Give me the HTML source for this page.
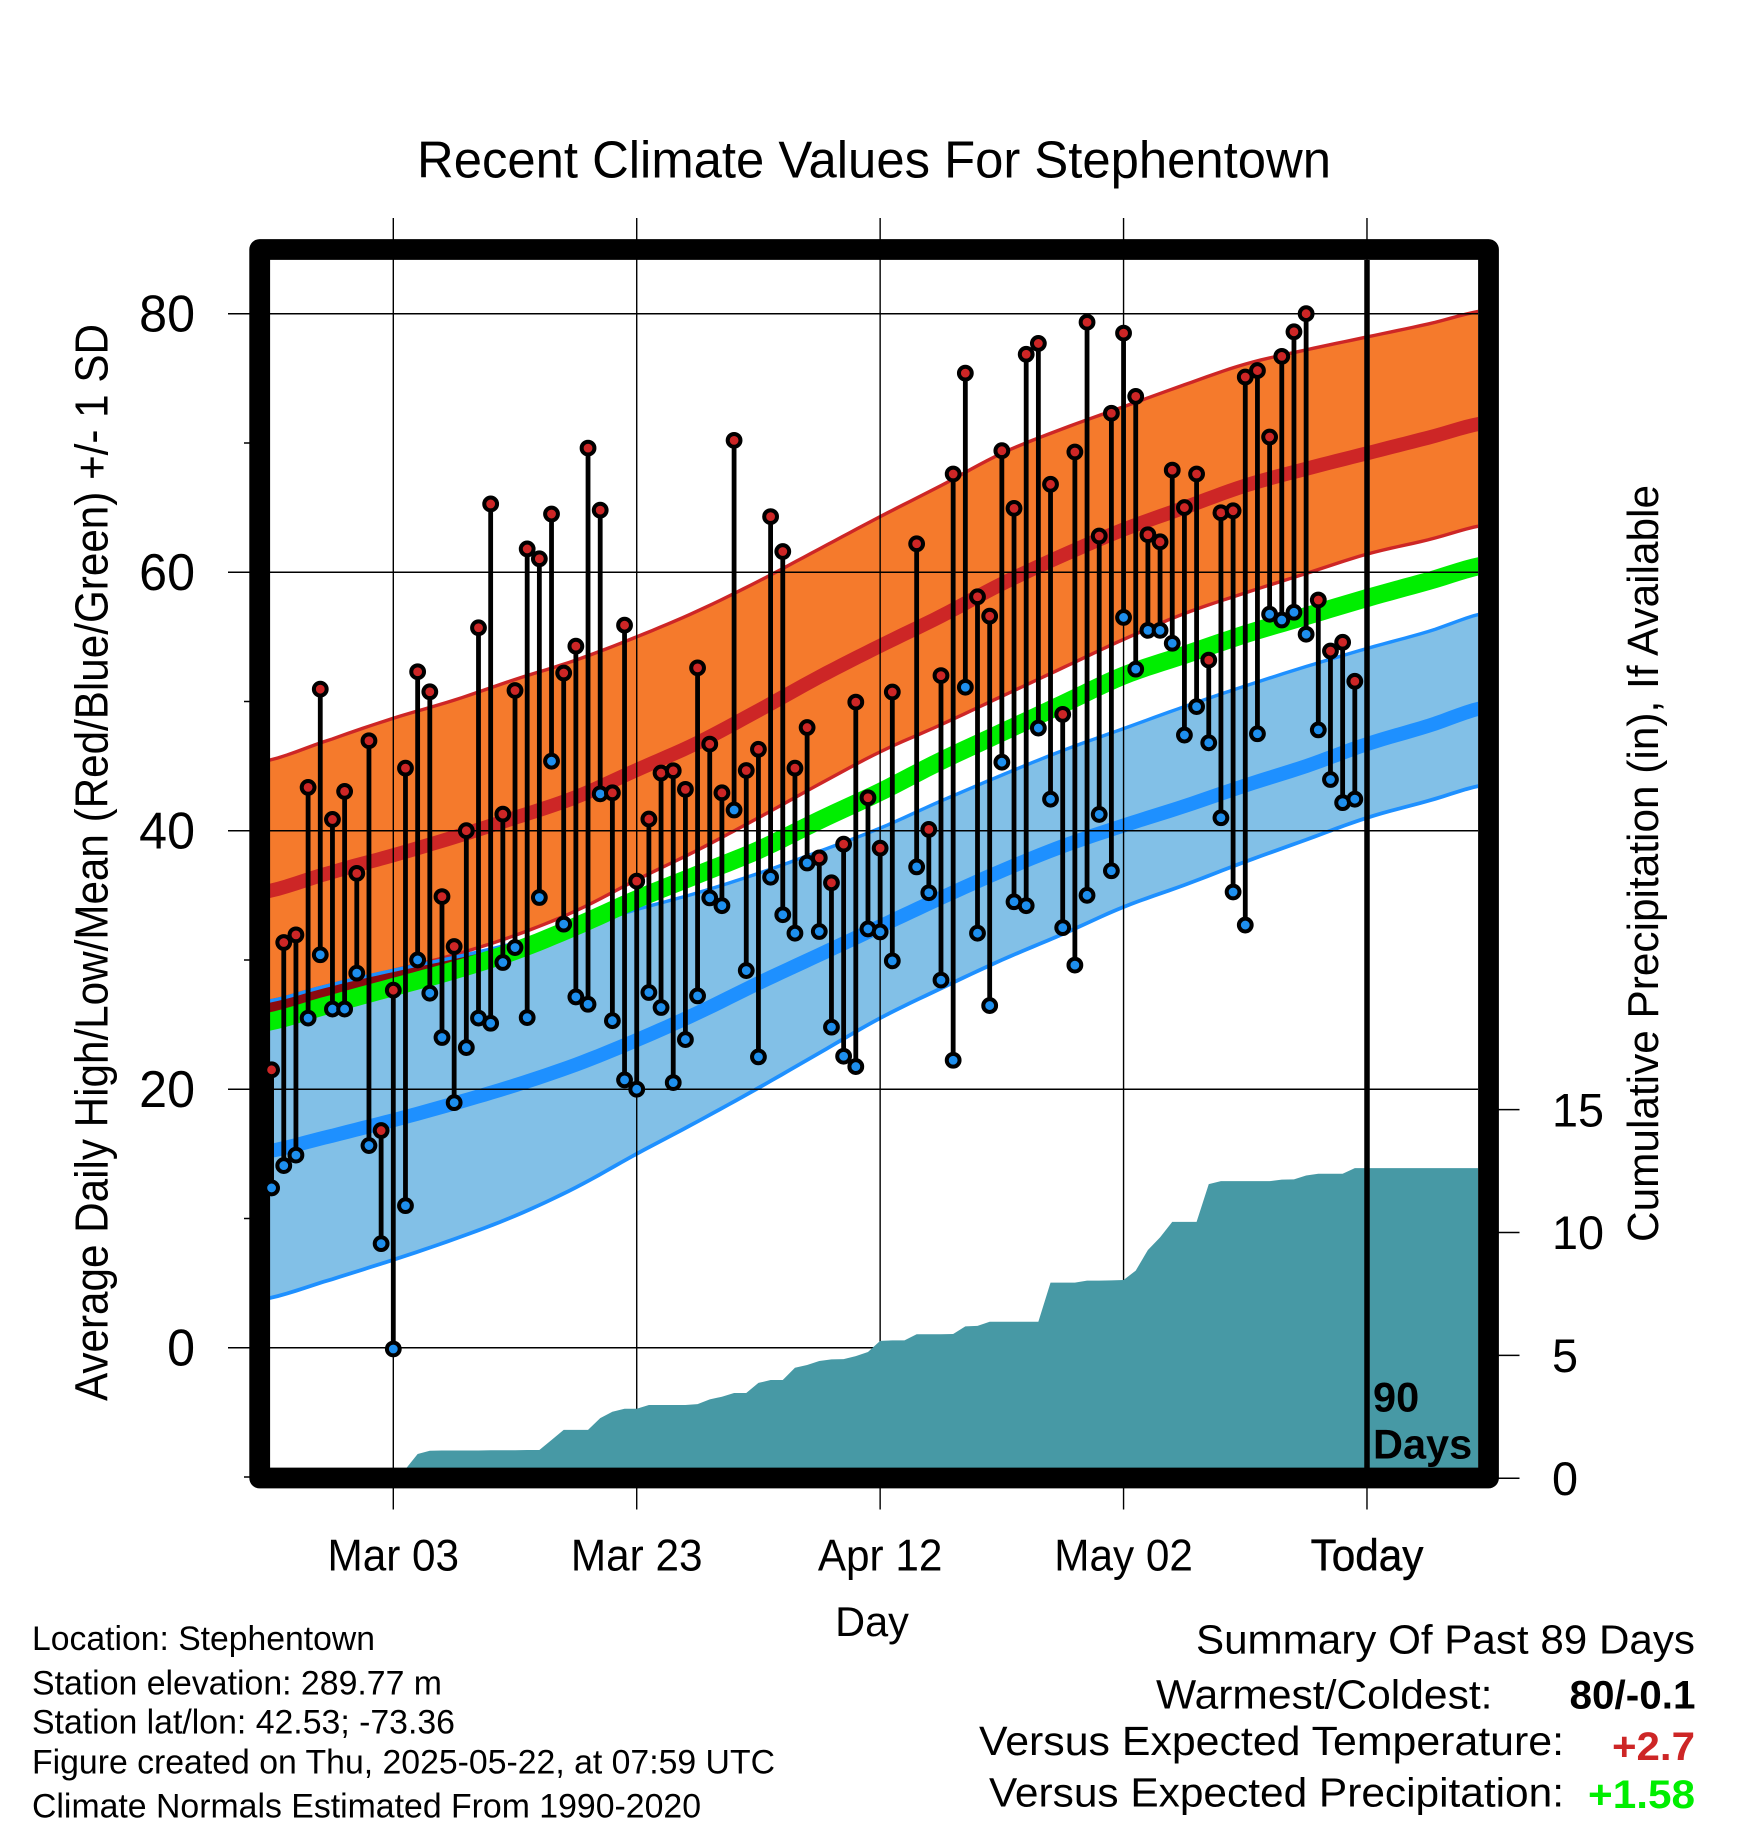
<!DOCTYPE html>
<html lang="en">
<head>
<meta charset="utf-8">
<title>Recent Climate Values For Stephentown</title>
<style>
html,body{margin:0;padding:0;background:#fff;}
svg{display:block;}
text{font-family:"Liberation Sans",sans-serif;fill:#000;}
</style>
</head>
<body>
<svg id="chart" xmlns="http://www.w3.org/2000/svg" width="1748" height="1828" viewBox="0 0 1748 1828">
  <defs>
    <clipPath id="plot-clip"><rect x="270" y="260" width="1208" height="1208"/></clipPath>
  </defs>
  <rect x="0" y="0" width="1748" height="1828" fill="#fff"/>
  <text x="417" y="177.3" font-size="52" textLength="914" lengthAdjust="spacingAndGlyphs">Recent Climate Values For Stephentown</text>
  <g id="bands" clip-path="url(#plot-clip)"></g>
  <g id="grid"></g>
  <g id="precip" clip-path="url(#plot-clip)"></g>
  <line x1="1367" x2="1367" y1="260" y2="1468" stroke="#000" stroke-width="5.5"/>
  <rect x="259.7" y="249.5" width="1228.8" height="1228.5" fill="none" stroke="#000" stroke-width="20.8" stroke-linejoin="round"/>
  <g id="marks"></g>
  <g id="axis-labels"></g>
  <text x="1373" y="1411.7" font-size="41.5" font-weight="bold">90</text>
  <text x="1373" y="1458.3" font-size="41.5" font-weight="bold">Days</text>
  <text transform="translate(107.5,1401) rotate(-90)" font-size="46" textLength="1077" lengthAdjust="spacingAndGlyphs">Average Daily High/Low/Mean (Red/Blue/Green) +/- 1 SD</text>
  <text transform="translate(1658,1242) rotate(-90)" font-size="43.5" textLength="757" lengthAdjust="spacingAndGlyphs">Cumulative Precipitation (in), If Available</text>
  <text x="872" y="1636" font-size="41.5" text-anchor="middle">Day</text>

  <text x="32" y="1650" font-size="34.5" textLength="343" lengthAdjust="spacingAndGlyphs">Location: Stephentown</text>
  <text x="32" y="1694.3" font-size="34.5" textLength="410" lengthAdjust="spacingAndGlyphs">Station elevation: 289.77 m</text>
  <text x="32" y="1733.3" font-size="34.5" textLength="423" lengthAdjust="spacingAndGlyphs">Station lat/lon: 42.53; -73.36</text>
  <text x="32" y="1773.3" font-size="34.5" textLength="743" lengthAdjust="spacingAndGlyphs">Figure created on Thu, 2025-05-22, at 07:59 UTC</text>
  <text x="32" y="1817.3" font-size="34.5" textLength="669" lengthAdjust="spacingAndGlyphs">Climate Normals Estimated From 1990-2020</text>

  <text x="1196" y="1653.3" font-size="41" textLength="499" lengthAdjust="spacingAndGlyphs">Summary Of Past 89 Days</text>
  <text x="1156" y="1708.3" font-size="41" textLength="336.5" lengthAdjust="spacingAndGlyphs">Warmest/Coldest:</text>
  <text x="1569.5" y="1708.3" font-size="40" font-weight="bold" textLength="126" lengthAdjust="spacingAndGlyphs">80/-0.1</text>
  <text x="979" y="1755" font-size="41" textLength="585" lengthAdjust="spacingAndGlyphs">Versus Expected Temperature:</text>
  <text x="1612" y="1760" font-size="40" font-weight="bold" style="fill:#cd2626" textLength="83" lengthAdjust="spacingAndGlyphs">+2.7</text>
  <text x="989" y="1806.7" font-size="41" textLength="575" lengthAdjust="spacingAndGlyphs">Versus Expected Precipitation:</text>
  <text x="1588" y="1808" font-size="40" font-weight="bold" style="fill:#00ee00" textLength="107" lengthAdjust="spacingAndGlyphs">+1.58</text>
</svg>
<script>
/* Chart values */
const firstDay = -10;
const dailyHigh = [21.5,31.35,31.94,43.35,50.95,40.87,43.04,36.7,46.96,16.8,
  27.66,44.84,52.3,50.75,34.9,31.04,40,55.7,65.28,41.28,
  50.85,61.8,61.04,64.5,52.2,54.28,69.6,64.8,42.93,55.9,
  36.1,40.9,44.46,44.64,43.2,52.6,46.7,42.93,70.2,44.66,
  46.3,64.3,61.6,44.84,47.98,37.9,35.97,38.96,49.95,42.55,
  38.65,50.73,null,62.2,40.1,52,67.6,75.4,58.1,56.6,
  69.4,64.94,76.86,77.7,66.8,49,69.3,79.34,62.8,72.3,
  78.5,73.6,62.9,62.35,67.9,65,67.6,53.2,64.6,64.75,
  75.1,75.6,70.46,76.7,78.6,80,57.85,53.9,54.58,51.56];
const dailyLow = [12.36,14.09,14.9,25.5,30.4,26.2,26.2,28.98,15.64,8.05,
  -0.1,10.99,30,27.43,24,18.96,23.22,25.5,25.1,29.8,
  30.96,25.54,34.83,45.38,32.77,27.14,26.57,42.85,25.3,20.72,
  20,27.48,26.32,20.51,23.84,27.22,34.8,34.2,41.6,29.18,
  22.5,36.4,33.5,32.07,37.5,32.2,24.8,22.55,21.75,32.4,
  32.17,29.93,null,37.2,35.2,28.44,22.24,51.1,32.07,26.47,
  45.3,34.5,34.2,47.94,42.44,32.5,29.6,35,41.26,36.9,
  56.5,52.5,55.5,55.5,54.5,47.4,49.6,46.8,41,35.26,
  32.7,47.5,56.75,56.3,56.9,55.2,47.8,43.96,42.17,42.44];

const normalDays = [-11,-5,0,5,10,15,20,25,30,35,40,45,50,55,60,65,70,75,80,85,90];
const highUpper = [45.3,47.1,48.7,50.1,51.7,53.2,55,57,59.3,61.8,64.3,66.7,69.2,71.1,72.8,74.5,76.1,77.2,78.2,79.2,80.3];
const highMean  = [35.2,36.8,38.1,39.5,41,42.6,44.7,46.8,49.3,51.9,54.3,56.6,59.1,61.3,63.3,65,66.7,68,69.2,70.4,71.6];
const highLower = [26.7,28.1,29.2,30.4,31.9,33.8,36.2,38.5,41,43.6,46.1,48.2,50.4,52.6,54.8,56.8,58.4,59.9,61.4,62.5,63.7];
const meanTemp  = [25.1,26.6,27.9,29.2,30.7,32.6,34.7,36.6,38.5,40.8,43,45.4,47.6,49.8,52,53.6,55.2,56.6,58,59.3,60.6];
const lowUpper  = [26.7,28.1,29.2,30.2,31.3,32.5,33.9,35.2,36.7,38.4,40.2,42.3,44.3,46.2,47.9,49.6,51.2,52.7,54.1,55.4,56.9];
const lowMean   = [15.1,16.4,17.6,18.9,20.3,21.9,23.8,25.9,28.2,30.4,32.6,34.8,36.9,38.8,40.4,41.9,43.5,45,46.7,48.1,49.6];
const lowLower  = [3.7,5.3,6.8,8.4,10.2,12.4,15,17.5,20.1,22.8,25.5,27.8,30,32,34.1,35.8,37.6,39.3,41,42.3,43.6];

const precipFirstDay = -11;
const precipTotal = [0,0,0,0,0,0,0,0,0,0,0,0,
  0.37,0.99,1.12,1.13,1.13,1.13,1.13,1.14,1.14,1.14,
  1.15,1.15,1.56,1.97,1.97,1.97,2.45,2.71,2.83,2.83,
  2.98,2.98,2.98,2.98,3.02,3.21,3.32,3.47,3.47,3.88,
  4,4,4.5,4.61,4.77,4.84,4.85,4.97,5.14,5.59,
  5.61,5.61,5.86,5.86,5.86,5.87,6.18,6.2,6.37,6.37,
  6.37,6.37,6.37,7.96,7.96,7.96,8.04,8.04,8.05,8.07,
  8.45,9.29,9.8,10.43,10.43,10.43,11.97,12.09,12.09,12.09,
  12.09,12.09,12.15,12.16,12.32,12.39,12.39,12.39,12.62,12.62,
  12.62,12.62,12.62,12.62,12.62,12.62,12.62,12.62,12.62,12.62];

const xTickDays = [0,20,40,60,80];
const xTickLabels = ['Mar 03','Mar 23','Apr 12','May 02','Today'];
const yMajorTicks = [0,20,40,60,80];
const yMinorTicks = [-10,10,30,50,70];
const precipTicks = [0,5,10,15];

/* Axis functions */
function xScale(day){ return 393.3 + 12.171 * day; }
function yScale(temp){ return 1347.7 - 12.925 * temp; }
function pScale(inches){ return 1478.3 - 24.58 * inches; }

const NS = 'http://www.w3.org/2000/svg';
function make(parent, tag, attrs){
  const el = document.createElementNS(NS, tag);
  for (const k in attrs) el.setAttribute(k, attrs[k]);
  parent.appendChild(el);
  return el;
}
/* Smooth drawn points through a curve's read values (Catmull-Rom) */
function curvePoints(values, count){
  const n = count === undefined ? values.length : count;
  const pts = [];
  for (let i = 0; i < n - 1; i++){
    const a = values[Math.max(i - 1, 0)], b = values[i], c = values[i + 1], e = values[Math.min(i + 2, values.length - 1)];
    for (let s = 0; s < 8; s++){
      const t = s / 8;
      const v = 0.5 * (2 * b + (c - a) * t + (2 * a - 5 * b + 4 * c - e) * t * t + (3 * b - a - 3 * c + e) * t * t * t);
      const day = normalDays[i] + (normalDays[i + 1] - normalDays[i]) * t;
      pts.push([xScale(day), yScale(v)]);
    }
  }
  pts.push([xScale(normalDays[n - 1]), yScale(values[n - 1])]);
  return pts;
}
function pointsToPath(pts, start){
  return pts.map(function(p, i){
    return (i === 0 && start ? 'M' : 'L') + p[0].toFixed(2) + ' ' + p[1].toFixed(2);
  }).join('');
}
function linePath(values, count){
  return pointsToPath(curvePoints(values, count), true);
}
function bandPath(upper, lower, count){
  return linePath(upper, count) + pointsToPath(curvePoints(lower, count).reverse(), false) + 'Z';
}

/* Normal bands */
const bands = document.getElementById('bands');
const highBand = make(bands, 'path', {d: bandPath(highUpper, highLower), fill: '#f57a2c'});


const highUpperLine = make(bands, 'path', {d: linePath(highUpper), fill: 'none', stroke: '#cd2626', 'stroke-width': 3.4});


const highLowerLine = make(bands, 'path', {d: linePath(highLower), fill: 'none', stroke: '#cd2626', 'stroke-width': 3.4});


const lowBand = make(bands, 'path', {d: bandPath(lowUpper, lowLower), fill: '#82c0e7'});


/* dark overlap wedge where the high and low bands touch */
const overlapBand = make(bands, 'path', {d: bandPath(lowUpper, meanTemp, 5), fill: '#8b0a10'});


const lowUpperLine = make(bands, 'path', {d: linePath(lowUpper), fill: 'none', stroke: '#1e90ff', 'stroke-width': 3.4});


const lowLowerLine = make(bands, 'path', {d: linePath(lowLower), fill: 'none', stroke: '#1e90ff', 'stroke-width': 3.8});


const highMeanLine = make(bands, 'path', {d: linePath(highMean), fill: 'none', stroke: '#cd2626', 'stroke-width': 14});


const lowMeanLine = make(bands, 'path', {d: linePath(lowMean), fill: 'none', stroke: '#1e90ff', 'stroke-width': 14});


const meanLine = make(bands, 'path', {d: linePath(meanTemp), fill: 'none', stroke: '#00ee00', 'stroke-width': 18});



/* Grid and ticks */
const grid = document.getElementById('grid');
yMajorTicks.forEach(function(v){
  const l = make(grid, 'line', {x1: 228, x2: 1478, y1: yScale(v), y2: yScale(v), stroke: '#000', 'stroke-width': 1.5});
  
  
});
yMinorTicks.forEach(function(v){
  const l = make(grid, 'line', {x1: 244, x2: 262, y1: yScale(v), y2: yScale(v), stroke: '#000', 'stroke-width': 1.5});
  
  
});
xTickDays.forEach(function(d){
  const l = make(grid, 'line', {x1: xScale(d), x2: xScale(d), y1: 218, y2: 1509.5, stroke: '#000', 'stroke-width': 1.4});
  
  
});
precipTicks.forEach(function(v){
  const l = make(grid, 'line', {x1: 1495, x2: 1519.5, y1: pScale(v), y2: pScale(v), stroke: '#000', 'stroke-width': 1.5});
  
  
});

/* Precipitation area */
let area = 'M' + xScale(precipFirstDay).toFixed(2) + ' ' + pScale(0).toFixed(2);
precipTotal.forEach(function(v, i){
  area += 'L' + xScale(precipFirstDay + i).toFixed(2) + ' ' + pScale(v).toFixed(2);
});
area += 'L' + xScale(precipFirstDay + precipTotal.length - 1).toFixed(2) + ' ' + pScale(0).toFixed(2) + 'Z';
const precipArea = make(document.getElementById('precip'), 'path', {d: area, fill: '#4799a5'});



/* Daily high / low stems */
const marks = document.getElementById('marks');
dailyHigh.forEach(function(hi, i){
  const lo = dailyLow[i];
  if (hi === null || lo === null) return;
  const x = xScale(firstDay + i);
  const stem = make(marks, 'line', {x1: x, x2: x, y1: yScale(hi), y2: yScale(lo), stroke: '#000', 'stroke-width': 4.8});
  
  
  const lowDot = make(marks, 'circle', {cx: x, cy: yScale(lo), r: 6.4, fill: '#1e8fee', stroke: '#000', 'stroke-width': 4});
  
  
  const highDot = make(marks, 'circle', {cx: x, cy: yScale(hi), r: 6.4, fill: '#cd2626', stroke: '#000', 'stroke-width': 4});
  
  
});

/* Tick labels */
const labels = document.getElementById('axis-labels');
yMajorTicks.forEach(function(v){
  const t = make(labels, 'text', {x: 195, y: yScale(v) + 18, 'font-size': 52, 'text-anchor': 'end'});
  
  
  t.textContent = String(v);
  t.setAttribute('textLength', (t.getComputedTextLength() * 0.965).toFixed(2));
  t.setAttribute('lengthAdjust', 'spacingAndGlyphs');
});
precipTicks.forEach(function(v){
  const t = make(labels, 'text', {x: 1552, y: pScale(v) + 16.7, 'font-size': 47.5});
  
  
  t.textContent = String(v);
  t.setAttribute('textLength', (t.getComputedTextLength() * 0.985).toFixed(2));
  t.setAttribute('lengthAdjust', 'spacingAndGlyphs');
});
xTickDays.forEach(function(d, i){
  const t = make(labels, 'text', {x: xScale(d), y: 1570.7, 'font-size': 44.5, 'text-anchor': 'middle'});
  
  
  t.textContent = xTickLabels[i];
  t.setAttribute('textLength', (t.getComputedTextLength() * 0.95).toFixed(2));
  t.setAttribute('lengthAdjust', 'spacingAndGlyphs');
  if (xTickLabels[i] === 'Today'){
    t.setAttribute('textLength', (t.getComputedTextLength() * 1.0).toFixed(2));
    t.style.stroke = '#000';
    t.style.strokeWidth = '0.5px';
  }
});
</script>
</body>
</html>
